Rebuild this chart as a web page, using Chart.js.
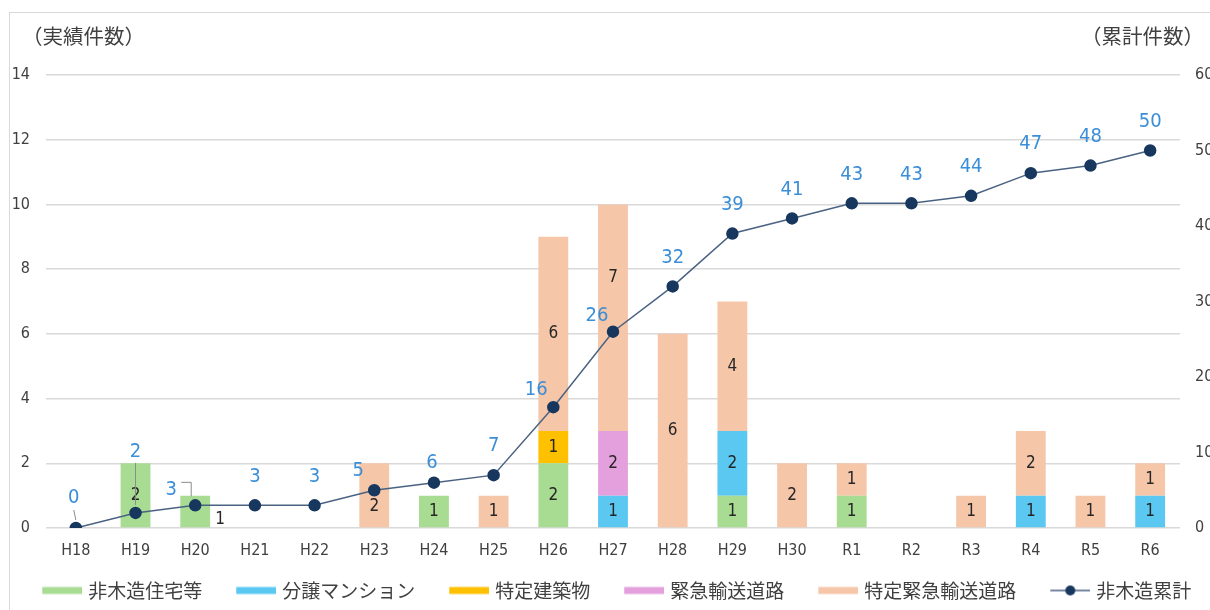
<!DOCTYPE html>
<html lang="ja">
<head>
<meta charset="utf-8">
<script src="https://cdn.jsdelivr.net/npm/chart.js@4"></script>
<style>
  html, body { margin: 0; padding: 0; background: #fff; }
  #wrap { position: relative; width: 1210px; height: 610px; overflow: hidden; }
  #frame { position: absolute; left: 9px; top: 12px; width: 1300px; height: 700px;
           border-left: 1px solid #d9d9d9; border-top: 1px solid #d9d9d9; }
  #chart { position: absolute; left: 0; top: 0; }
</style>
</head>
<body>
<div id="wrap">
  <div id="frame"></div>
  <canvas id="chart" width="1210" height="610"></canvas>
</div>
<script>
// data
const years = ["H18", "H19", "H20", "H21", "H22", "H23", "H24", "H25", "H26", "H27",
               "H28", "H29", "H30", "R1", "R2", "R3", "R4", "R5", "R6"];
const nonWooden   = [0, 2, 1, 0, 0, 0, 1, 0, 2, 0, 0, 1, 0, 1, 0, 0, 0, 0, 0];
const condos      = [0, 0, 0, 0, 0, 0, 0, 0, 0, 1, 0, 2, 0, 0, 0, 0, 1, 0, 1];
const specified   = [0, 0, 0, 0, 0, 0, 0, 0, 1, 0, 0, 0, 0, 0, 0, 0, 0, 0, 0];
const emergency   = [0, 0, 0, 0, 0, 0, 0, 0, 0, 2, 0, 0, 0, 0, 0, 0, 0, 0, 0];
const specEmerg   = [0, 0, 0, 0, 0, 2, 0, 1, 6, 7, 6, 4, 2, 1, 0, 1, 2, 1, 1];
const cumulative  = [0, 2, 3, 3, 3, 5, 6, 7, 16, 26, 32, 39, 41, 43, 43, 44, 47, 48, 50];
const leftTicks   = [0, 2, 4, 6, 8, 10, 12, 14];
const rightTicks  = [0, 10, 20, 30, 40, 50, 60];

const NARROW = '"Liberation Sans Narrow", "DejaVu Sans Condensed", "Noto Sans", sans-serif';
const JP = '"Noto Sans CJK JP", "Noto Sans", sans-serif';
const LINE_COLOR = "#4a6282";
const POINT_COLOR = "#17375e";
const CUM_LABEL = "#3b8ed8";

Chart.defaults.font.family = NARROW;
Chart.defaults.color = "#404040";

// legend swatch: 67px canvas drawn centred on a 60px slot, visible part sits at its right
function swatch(color, isLine) {
  const c = document.createElement("canvas");
  c.width = 67; c.height = 12;
  const g = c.getContext("2d");
  if (isLine) {
    g.strokeStyle = LINE_COLOR; g.lineWidth = 1.5;
    g.beginPath(); g.moveTo(27, 6); g.lineTo(67, 6); g.stroke();
    g.fillStyle = POINT_COLOR;
    g.beginPath(); g.arc(47, 6, 5, 0, Math.PI * 2); g.fill();
  } else {
    g.fillStyle = color;
    g.fillRect(27, 2.5, 40, 7);
  }
  return c;
}

// label quirks (offsets from the point / segment centre)
const cumOffsets = { 0: [-2, -30], 1: [0, -61], 2: [-24, -16], 5: [-16, -19],
                     6: [-2, -20], 8: [-17, -17], 9: [-16, -16] };
const barOffsets = { "0-2": [25, 8], "4-5": [0, 11], "4-9": [0, -40] };

const labelsPlugin = {
  id: "valueLabels",
  afterDatasetsDraw(chart) {
    const ctx = chart.ctx;
    ctx.save();
    ctx.textAlign = "center";
    ctx.textBaseline = "middle";

    // numbers inside the stacked bars
    ctx.font = "17px " + NARROW;
    ctx.fillStyle = "#262626";
    chart.data.datasets.forEach((ds, di) => {
      if (ds.type === "line") return;
      chart.getDatasetMeta(di).data.forEach((bar, i) => {
        const v = ds.data[i];
        if (!v) return;
        const [dx, dy] = barOffsets[di + "-" + i] || [0, 0];
        ctx.fillText(String(v), bar.x + dx, (bar.y + bar.base) / 2 + dy);
      });
    });

    // cumulative labels
    const li = chart.data.datasets.findIndex(d => d.type === "line");
    const pts = chart.getDatasetMeta(li).data;
    ctx.strokeStyle = "#8c8c8c";
    ctx.lineWidth = 1;
    const p1 = pts[1], p2 = pts[2], p0 = pts[0];
    ctx.beginPath();
    ctx.moveTo(p1.x, p1.y - 50); ctx.lineTo(p1.x, p1.y - 8);
    ctx.moveTo(p2.x - 14, p2.y - 23); ctx.lineTo(p2.x - 4, p2.y - 23); ctx.lineTo(p2.x - 4, p2.y - 9);
    ctx.moveTo(p0.x - 2, p0.y - 18); ctx.lineTo(p0.x, p0.y - 8);
    ctx.stroke();

    ctx.font = "20px " + NARROW;
    ctx.fillStyle = CUM_LABEL;
    pts.forEach((p, i) => {
      const [dx, dy] = cumOffsets[i] || [0, -29];
      ctx.fillText(String(cumulative[i]), p.x + dx, p.y + dy);
    });

    // axis captions
    ctx.font = "20.5px " + JP;
    ctx.fillStyle = "#404040";
    ctx.textAlign = "left";
    ctx.fillText("（実績件数）", 22, 36);
    ctx.textAlign = "right";
    ctx.fillText("（累計件数）", 1204, 36);
    ctx.restore();
  }
};

const barDs = (label, data, color) => ({
  type: "bar", label, data, backgroundColor: color, stack: "s", yAxisID: "y",
  barPercentage: 0.5, categoryPercentage: 1, order: 2
});

new Chart(document.getElementById("chart"), {
  data: {
    labels: years,
    datasets: [
      barDs("非木造住宅等", nonWooden, "#a9dc93"),
      barDs("分譲マンション", condos, "#5bc8f2"),
      barDs("特定建築物", specified, "#ffc000"),
      barDs("緊急輸送道路", emergency, "#e3a0dc"),
      barDs("特定緊急輸送道路", specEmerg, "#f6c6a9"),
      {
        type: "line", label: "非木造累計", data: cumulative, yAxisID: "y1", order: 1,
        borderColor: LINE_COLOR, borderWidth: 1.5, pointRadius: 5.5,
        pointBackgroundColor: POINT_COLOR, pointBorderColor: POINT_COLOR, tension: 0
      }
    ]
  },
  options: {
    responsive: false,
    animation: false,
    layout: { padding: { top: 75, left: 0, right: 0, bottom: 0 } },
    plugins: {
      tooltip: { enabled: false },
      legend: {
        position: "bottom",
        labels: {
          usePointStyle: true,
          pointStyleWidth: 60,
          padding: 10.5,
          font: { family: JP, size: 19 },
          color: "#404040",
          sort: (a, b) => a.datasetIndex - b.datasetIndex,
          generateLabels(chart) {
            const items = Chart.defaults.plugins.legend.labels.generateLabels(chart);
            items.forEach(it => {
              const ds = chart.data.datasets[it.datasetIndex];
              it.pointStyle = swatch(ds.backgroundColor, ds.type === "line");
            });
            return items;
          }
        }
      }
    },
    scales: {
      x: {
        stacked: true,
        grid: { display: false, drawTicks: false },
        border: { display: false },
        ticks: { padding: 13, font: { size: 16 }, color: "#404040" },
        afterFit(s) { s.height = 42.5; }
      },
      y: {
        stacked: true, position: "left", min: 0, max: 14,
        afterBuildTicks(s) { s.ticks = leftTicks.map(v => ({ value: v })); },
        grid: { color: "#d9d9d9", lineWidth: 1.5, drawTicks: false },
        border: { display: false },
        ticks: { padding: 16, font: { size: 16 }, color: "#404040" },
        afterFit(s) { s.width = 46; }
      },
      y1: {
        position: "right", min: 0, max: 60,
        afterBuildTicks(s) { s.ticks = rightTicks.map(v => ({ value: v })); },
        grid: { display: false, drawTicks: false },
        border: { display: false },
        ticks: { padding: 15, font: { size: 16 }, color: "#404040" },
        afterFit(s) { s.width = 30; }
      }
    }
  },
  plugins: [labelsPlugin]
});
</script>
</body>
</html>
